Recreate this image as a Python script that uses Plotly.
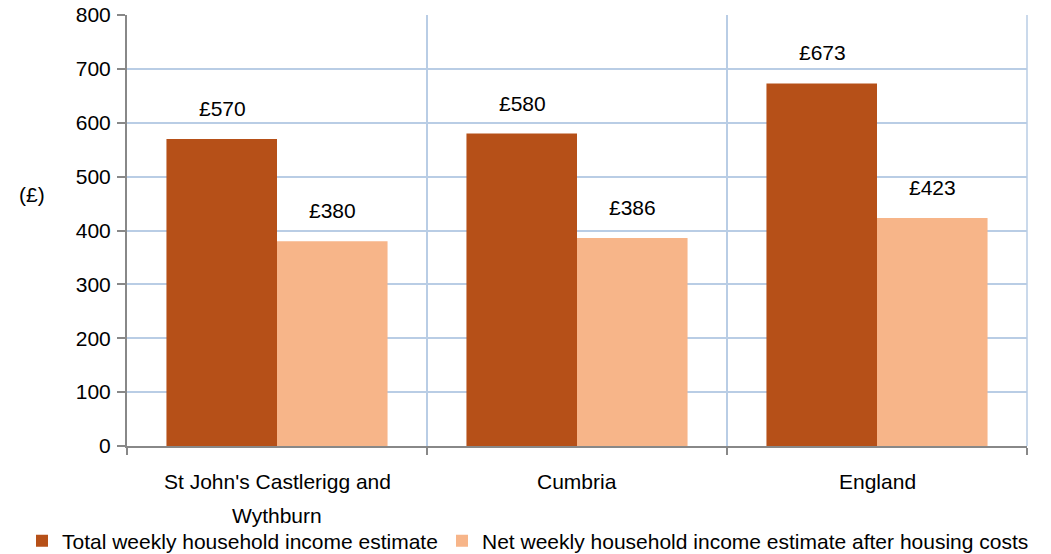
import plotly.graph_objects as go

categories = ["St John's Castlerigg and Wythburn", "Cumbria", "England"]
category_label_lines = [["St John's Castlerigg and", "Wythburn"], ["Cumbria"], ["England"]]
total_weekly = [570, 580, 673]
net_weekly = [380, 386, 423]
series_names = ["Total weekly household income estimate",
                "Net weekly household income estimate after housing costs"]
y_ticks = [0, 100, 200, 300, 400, 500, 600, 700, 800]

FONT = "Liberation Sans, Arial, sans-serif"
FS = 21
dark = "#B65018"
light = "#F7B589"
grid = "#B9CDE5"
axis_col = "#888888"

W, H = 1051, 554

fig = go.Figure()
fig.add_trace(go.Bar(x=categories, y=total_weekly, name=series_names[0],
                     marker=dict(color=dark, line=dict(width=0)), legend="legend",
                     showlegend=True))
fig.add_trace(go.Bar(x=categories, y=net_weekly, name=series_names[1],
                     marker=dict(color=light, line=dict(width=0)), legend="legend2",
                     showlegend=True))

annotations = []
for vals, shift in ((total_weekly, -55), (net_weekly, 55)):
    for c, v in zip(categories, vals):
        annotations.append(dict(x=c, y=v, xref="x", yref="y", text=f"£{v}",
                                showarrow=False, xshift=shift, yshift=17,
                                yanchor="bottom", font=dict(size=FS, color="#000", family=FONT)))
for c, lines in zip(categories, category_label_lines):
    for i, line in enumerate(lines):
        annotations.append(dict(x=c, y=0, xref="x", yref="paper", text=line,
                                showarrow=False, yanchor="middle", yshift=-35 - 34 * i,
                                font=dict(size=FS, color="#000", family=FONT)))
annotations.append(dict(x=-0.1226, y=0.583, xref="paper", yref="paper", text="(£)",
                        showarrow=False, font=dict(size=FS, color="#000", family=FONT)))

legend_common = dict(orientation="h", xref="container", yref="container",
                     y=1 - 541 / H, xanchor="left", yanchor="middle",
                     font=dict(size=FS, family=FONT, color="#000"), itemwidth=30,
                     bgcolor="rgba(0,0,0,0)", visible=True)

fig.update_layout(
    width=W, height=H,
    showlegend=True,
    margin=dict(l=127, r=24, t=15, b=108, autoexpand=False),
    paper_bgcolor="white", plot_bgcolor="white",
    barmode="group", bargap=0.263, bargroupgap=0,
    font=dict(family=FONT, size=FS, color="#000"),
    annotations=annotations,
    legend=dict(x=22 / W, **legend_common),
    legend2=dict(x=442 / W, **legend_common),
    shapes=[dict(type="line", xref="paper", yref="paper", x0=1, x1=1, y0=0, y1=1,
                 line=dict(color=grid, width=1.5), layer="below")],
    xaxis=dict(type="category", tickson="boundaries", showgrid=True,
               gridcolor=grid, gridwidth=1.5, showline=True, linecolor=axis_col,
               linewidth=2, ticks="outside", ticklen=7, tickcolor=axis_col,
               tickwidth=2, showticklabels=False, automargin=False),
    yaxis=dict(range=[0, 800], tickvals=y_ticks, showgrid=True, gridcolor=grid,
               gridwidth=1.5, showline=True, linecolor=axis_col, linewidth=2,
               ticks="outside", ticklen=8, tickcolor=axis_col, tickwidth=2,
               ticklabelstandoff=2, zeroline=False, automargin=False,
               ticklabeloverflow="allow",
               tickfont=dict(size=FS, family=FONT, color="#000")),
)

fig.write_html("out.html",
               config={"displayModeBar": False},
               post_script="document.body.style.margin='0';document.body.style.overflow='hidden';")
